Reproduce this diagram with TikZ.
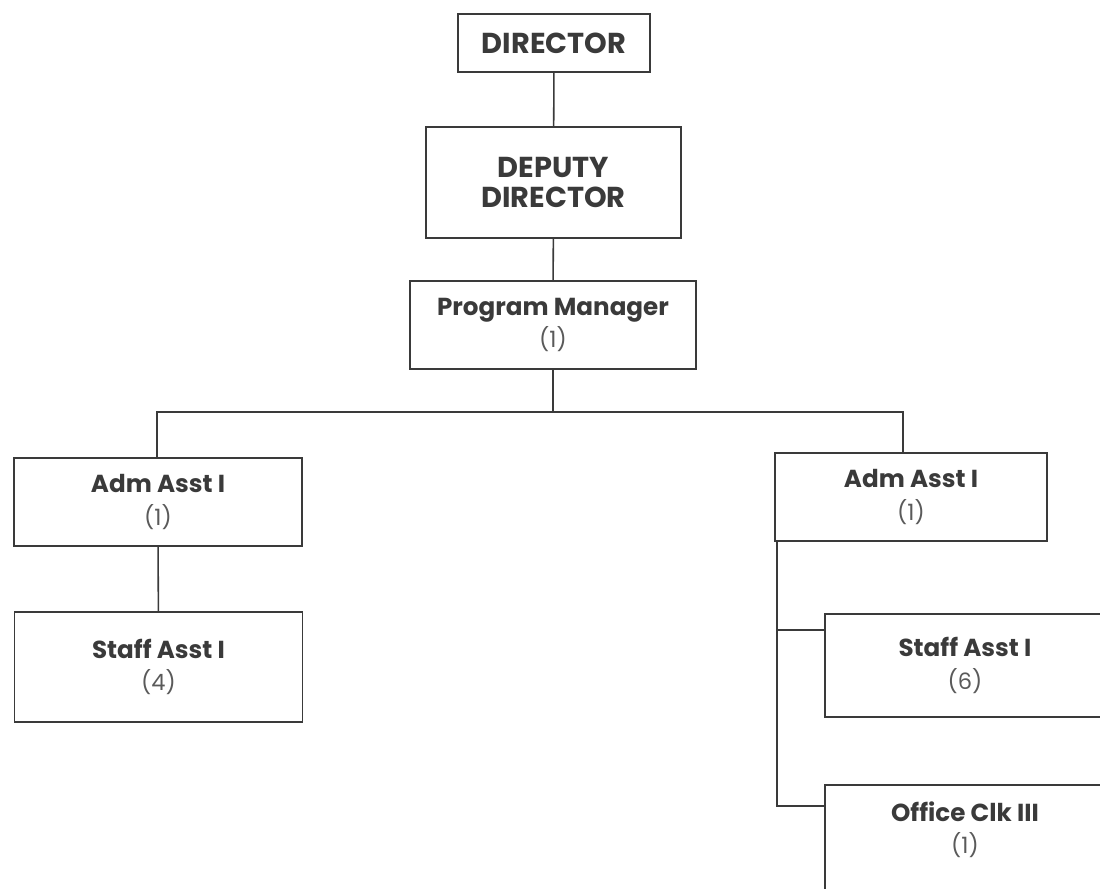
\documentclass[tikz,border=0pt]{standalone}
\usepackage{fontspec}
\setmainfont{Poppins}
\definecolor{inkgray}{HTML}{3A3A3A}
\definecolor{cntgray}{HTML}{5A5A5A}
\newcommand{\cnt}[1]{{\color{cntgray}\mdseries\fontsize{16}{23}\selectfont #1}}
\tikzset{
  post/.style={draw=inkgray, line width=1.1pt, align=center, text=inkgray,
    font=\fontsize{17.5}{23}\selectfont\bfseries, inner sep=2pt},
  head/.style={post, font=\fontsize{20.5}{21}\selectfont\bfseries},
  link/.style={draw=inkgray, line width=1.1pt}
}
\begin{document}
\begin{tikzpicture}[x=0.025cm, y=-0.025cm]
  \useasboundingbox (0,0) rectangle (1100,889);
  \clip (0,0) rectangle (1100,889);
  % top of the chart
  \node[head, minimum width=4.8cm, minimum height=1.45cm] (dir) at (554,43) {DIRECTOR};
  \node[head, minimum width=6.375cm, minimum height=2.775cm] (deputy) at (553.5,182.5) {DEPUTY\\DIRECTOR};
  \node[post, minimum width=7.15cm, minimum height=2.2cm] (pm) at (553,325) {Program Manager\\\cnt{(1)}};
  % left branch
  \node[post, minimum width=7.2cm, minimum height=2.2cm] (admL) at (158,502) {Adm Asst I\\\cnt{(1)}};
  \node[post, minimum width=7.2cm, minimum height=2.75cm] (staffL) at (158.5,667) {Staff Asst I\\\cnt{(4)}};
  % right branch
  \node[post, minimum width=6.8cm, minimum height=2.2cm] (admR) at (911,497) {Adm Asst I\\\cnt{(1)}};
  \node[post, minimum width=7cm, minimum height=2.575cm] (staffR) at (965,665.5) {Staff Asst I\\\cnt{(6)}};
  \node[post, minimum width=7cm, anchor=north, inner ysep=12pt] (clerk) at (965,784)
    {Office Clk III\\\cnt{(1)}\rule[-60pt]{0pt}{0pt}};
  % connectors
  \coordinate (bus) at (553,412);
  \coordinate (jL) at (157,412);
  \coordinate (jR) at (903,412);
  \coordinate (hS) at (777,630);
  \coordinate (hC) at (777,806);
  \draw[link] (dir) -- (deputy);
  \draw[link] (deputy) -- (pm);
  \draw[link] (pm) -- (bus);
  \draw[link] (jL |- admL.north) -- (jL) -- (jR) -- (jR |- admR.north);
  \draw[link] (admL) -- (staffL);
  \draw[link] (hS |- admR.south) -- (hC) -- (hC -| clerk.west);
  \draw[link] (hS) -- (hS -| staffR.west);
\end{tikzpicture}
\end{document}
